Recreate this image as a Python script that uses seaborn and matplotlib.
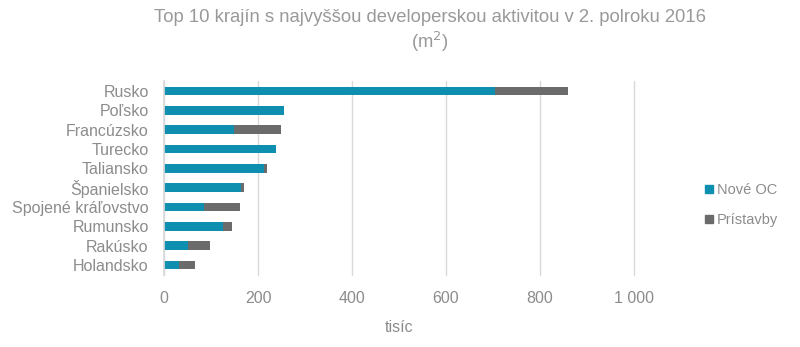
import matplotlib
matplotlib.use("Agg")
import matplotlib.pyplot as plt
import seaborn as sns
import pandas as pd
from matplotlib.lines import Line2D

countries = ["Rusko", "Poľsko", "Francúzsko", "Turecko", "Taliansko", "Španielsko",
             "Spojené kráľovstvo", "Rumunsko", "Rakúsko", "Holandsko"]
nove_oc = [705, 255, 148, 239, 212, 164, 86, 125, 51, 31]
pristavby = [155, 0, 101, 0, 7, 7, 75, 19, 47, 35]
xticks = [0, 200, 400, 600, 800, 1000]
xticklabels = ["0", "200", "400", "600", "800", "1 000"]

sns.set_theme(style="white")
plt.rcParams['font.family'] = ['Liberation Sans', 'DejaVu Sans']

teal = "#0F8FB0"
gray = "#6B6B6B"
txt = "#8C8C8C"

df = pd.DataFrame({"country": countries, "nove": nove_oc,
                   "total": [a + b for a, b in zip(nove_oc, pristavby)]})

fig = plt.figure(figsize=(8, 3.47), dpi=100)
ax = fig.add_axes([0.205, 0.208, 0.5875, 0.558])

sns.barplot(data=df, y="country", x="total", color=gray, width=0.45,
            saturation=1, ax=ax, orient="h", linewidth=0)
sns.barplot(data=df, y="country", x="nove", color=teal, width=0.45,
            saturation=1, ax=ax, orient="h", linewidth=0)

ax.set_xlim(0, 1000)
ax.set_ylim(9.5, -0.5)
ax.set_xticks(xticks)
ax.set_xticklabels(xticklabels)
ax.grid(axis="x", color="#D9D9D9", linewidth=1)
for gl in ax.get_xgridlines():
    gl.set_clip_on(False)
ax.set_axisbelow(True)
for s in ["top", "right", "bottom"]:
    ax.spines[s].set_visible(False)
ax.spines["left"].set_color("#D9D9D9")
ax.tick_params(axis="both", length=0, colors=txt, labelsize=11.5)
ax.tick_params(axis="x", pad=12)
ax.tick_params(axis="y", pad=11)
ax.set_ylabel("")
ax.set_xlabel("tisíc", color=txt, fontsize=11.5, labelpad=10)

fig.suptitle("Top 10 krajín s najvyššou developerskou aktivitou v 2. polroku 2016\n(m$^2$)",
             color="#999999", fontsize=13.3, x=0.5375, y=0.975, linespacing=1.25)

handles = [Line2D([], [], marker="s", linestyle="", color=teal, markersize=6),
           Line2D([], [], marker="s", linestyle="", color=gray, markersize=6)]
fig.legend(handles, ["Nové OC", "Prístavby"], loc="center left",
           bbox_to_anchor=(0.863, 0.41), frameon=False, fontsize=10.5,
           labelcolor=txt, handletextpad=0.1, labelspacing=1.1, handlelength=0.8)

fig.savefig("out.png", dpi=100)
